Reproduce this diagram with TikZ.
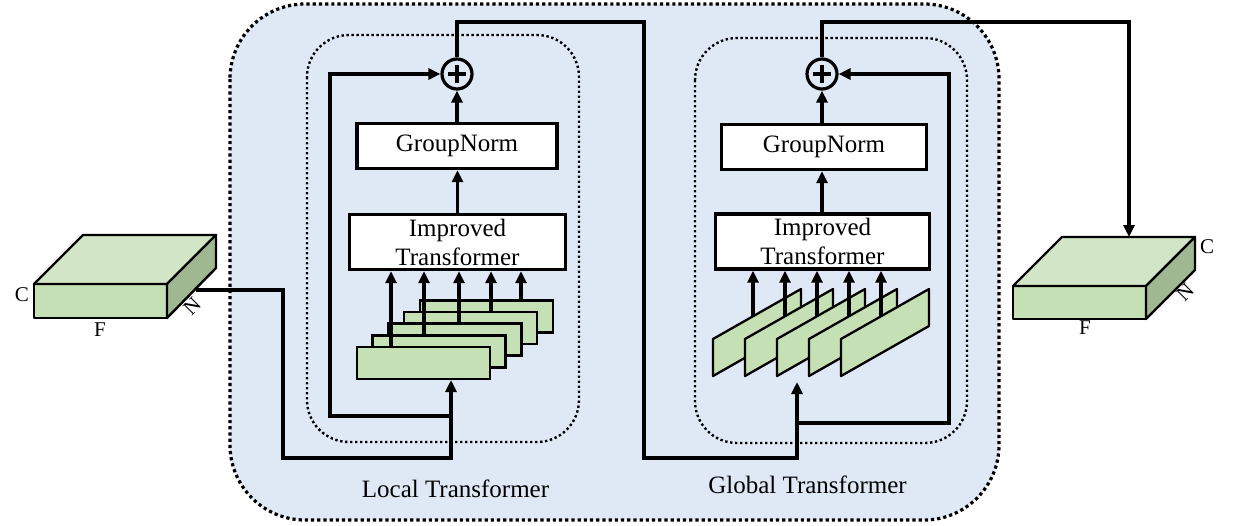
\documentclass[tikz,border=0pt]{standalone}
\usepackage{fontspec}
\setmainfont{Liberation Serif}
\usetikzlibrary{arrows.meta,calc}
\definecolor{bgblue}{RGB}{222,233,245}
\definecolor{gfront}{RGB}{197,224,180}
\definecolor{gtop}{RGB}{210,229,198}
\definecolor{gside}{RGB}{160,184,146}
\begin{document}
\begin{tikzpicture}[x=1pt,y=-1pt,
  conn/.style={line width=3.2pt},
  arr/.style={conn,-{Triangle[length=12pt,width=11pt]}},
  box/.style={draw,fill=white,line width=3.4pt,inner sep=0pt,font=\fontsize{25pt}{29pt}\selectfont,align=center},
  plusnode/.style={circle,draw,line width=3.2pt,minimum size=30pt,inner sep=0pt},
  lbl/.style={inner sep=0pt,font=\fontsize{21pt}{24pt}\selectfont},
  title/.style={inner sep=0pt,font=\fontsize{25pt}{29pt}\selectfont},
  outerdot/.style={line width=3.2pt,dash pattern=on 3.2pt off 3pt},
  innerdot/.style={line width=2.4pt,dash pattern=on 2.4pt off 2.6pt},
  cubeline/.style={line width=2.4pt,line join=round},
  slab/.style={draw,fill=gfront,line width=2.6pt},
  para/.style={draw,fill=gfront,line width=2.3pt,line join=round}]
\useasboundingbox (0,0) rectangle (1239,525);

% outer and inner regions
\draw[outerdot,fill=bgblue,rounded corners=75pt] (230,4) rectangle (999,520);
\draw[innerdot,rounded corners=42pt] (307,35) rectangle (579,442);
\draw[innerdot,rounded corners=42pt] (695,38) rectangle (967,443);

% nodes
\node[plusnode] (p1) at (457,74) {};
\node[plusnode] (p2) at (822,74) {};
\foreach \p in {p1,p2}{
  \draw[line width=3.2pt] ($(\p)+(-9,0)$) -- ($(\p)+(9,0)$);
  \draw[line width=3.2pt] ($(\p)+(0,-9)$) -- ($(\p)+(0,9)$);
}
\node[box,minimum width=200pt,minimum height=45pt] (gn1) at (457,146) {GroupNorm};
\node[box,minimum width=216pt,minimum height=55pt] (it1) at (457.5,242) {Improved\\Transformer};
\node[box,minimum width=205pt,minimum height=45pt] (gn2) at (824,147) {GroupNorm};
\node[box,minimum width=214pt,minimum height=55pt] (it2) at (822.5,241.5) {Improved\\Transformer};

% coordinates
\coordinate (inL) at (196,290);
\coordinate (a1) at (283,290);
\coordinate (a2) at (283,458);
\coordinate (a3) at (451,458);
\coordinate (tipL) at (451,380);
\coordinate (b1) at (451,416);
\coordinate (b2) at (330,416);
\coordinate (b3) at (330,74);
\coordinate (t1) at (457,22);
\coordinate (t2) at (644,22);
\coordinate (t3) at (644,458);
\coordinate (t4) at (797,458);
\coordinate (tipG) at (797,382);
\coordinate (g1) at (797,423);
\coordinate (g2) at (949,423);
\coordinate (g3) at (949,74);
\coordinate (o1) at (822,22);
\coordinate (o2) at (1129,22);
\coordinate (outR) at (1129,237);

% connectors
\draw[arr] (inL) -- (a1) -- (a2) -- (a3) -- (tipL);
\draw[arr] (b1) -- (b2) -- (b3) -- (p1.west);
\draw[arr] (p1.north) -- (t1) -- (t2) -- (t3) -- (t4) -- (tipG);
\draw[arr] (g1) -- (g2) -- (g3) -- (p2.east);
\draw[arr] (p2.north) -- (o1) -- (o2) -- (outR);
\draw[arr] (it1.north) -- (it1.north |- gn1.south);
\draw[arr] (gn1.north) -- (p1.south);
\draw[arr] (p2 |- it2.north) -- (p2 |- gn2.south);
\draw[arr] (p2 |- gn2.north) -- (p2.south);

% local stack
\foreach \i in {4,3,2,1,0}
  \draw[slab] ({357+15.7*\i},{347-11.7*\i}) rectangle +(133,32);
\foreach \x/\y in {391/348,424/336,459/324,491/312,521/301}
  \draw[arr] (\x,\y) -- (\x,0 |- it1.south);

% global stack
\foreach \i in {0,...,4}
  \draw[para] ({713+32*\i},339) -- ++(0,37) -- ++(88,-50) -- ++(0,-37) -- cycle;
\foreach \i in {0,...,4}
  \draw[arr] ({753+32*\i},316) -- ({753+32*\i},0 |- it2.south);

% left cube
\draw[cubeline,fill=gfront] (34,284) rectangle (167,318);
\draw[cubeline,fill=gtop] (34,284) -- (83,235) -- (216,235) -- (167,284) -- cycle;
\draw[cubeline,fill=gside] (167,284) -- (216,235) -- (216,268) -- (167,318) -- cycle;
\node[lbl] (cL) at (22,295) {C};
\node[lbl] (fL) at (100,330) {F};
\node[lbl,rotate=45] (nL) at (192,306) {N};

% right cube
\draw[cubeline,fill=gfront] (1013,286) rectangle (1146,319);
\draw[cubeline,fill=gtop] (1013,286) -- (1062,237) -- (1195,237) -- (1146,286) -- cycle;
\draw[cubeline,fill=gside] (1146,286) -- (1195,237) -- (1195,270) -- (1146,319) -- cycle;
\node[lbl] (cR) at (1207,247) {C};
\node[lbl] (fR) at (1085,328) {F};
\node[lbl,rotate=45] (nR) at (1185,292) {N};

% titles
\node[title,anchor=base] (tl) at (455.5,497) {Local Transformer};
\node[title,anchor=base] (tg) at (807.5,493) {Global Transformer};
\end{tikzpicture}
\end{document}
